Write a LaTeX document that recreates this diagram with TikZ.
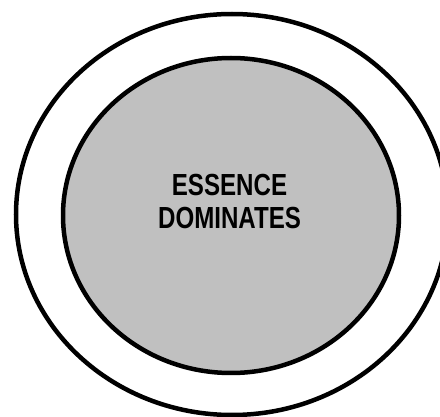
\documentclass[tikz,border=0pt]{standalone}
\usepackage{fontspec}
\setmainfont{Liberation Sans}
\begin{document}
\begin{tikzpicture}[x=1pt,y=-1pt,
  ring/.style={draw=black,line width=4.5pt},
  lbl/.style={font=\fontsize{30.5}{33}\selectfont\bfseries,align=center,inner sep=0pt}]
\useasboundingbox (0,0) rectangle (440,417);
\begin{scope}
\clip (0,0) rectangle (440,417);
\draw[ring] (232,214.5) ellipse [x radius=216,y radius=200.5];
\end{scope}
\draw[ring,fill={rgb,255:red,192;green,192;blue,192}] (231,215.5) ellipse [x radius=168,y radius=157.5];
\node[lbl] (t) at (229.5,201.5) {\scalebox{0.79}[1]{ESSENCE}\\\scalebox{0.79}[1]{DOMINATES}};
\end{tikzpicture}
\end{document}
